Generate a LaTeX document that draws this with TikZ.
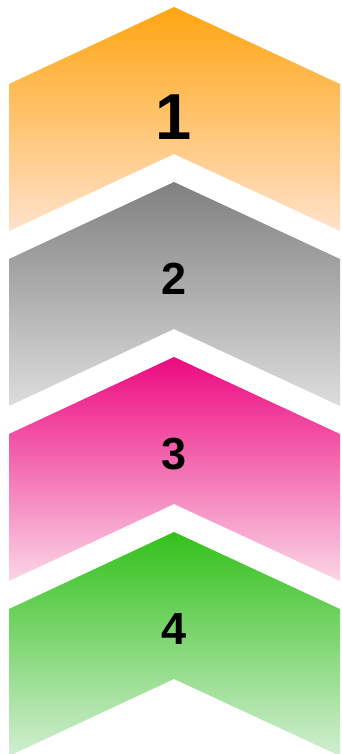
\documentclass[tikz,border=0pt]{standalone}
\usepackage{fontspec}
\setmainfont{Liberation Sans}
\definecolor{orangetop}{HTML}{FFA511}
\definecolor{orangebot}{HTML}{FFE2CC}
\definecolor{graytop}{HTML}{808080}
\definecolor{graybot}{HTML}{DDDDDD}
\definecolor{pinktop}{HTML}{EC0A80}
\definecolor{pinkbot}{HTML}{FBD6E6}
\definecolor{greentop}{HTML}{33C11B}
\definecolor{greenbot}{HTML}{D2EED2}
\begin{document}
\begin{tikzpicture}[x=1pt,y=-1pt,
	numlabel/.style={font=\bfseries\fontsize{45}{45}\selectfont,inner sep=0pt}]
	\useasboundingbox (0,0) rectangle (341,754);
	\fill[white] (0,0) rectangle (341,754);
	% chevrons, top to bottom
	\foreach \t/\ctop/\cbot in {7/orangetop/orangebot,182/graytop/graybot,357/pinktop/pinkbot,532/greentop/greenbot}
		\shade[top color=\ctop,bottom color=\cbot] (174,\t)--(340,\t+77)--(340,\t+224)--(174,\t+147)--(9,\t+224)--(9,\t+77)--cycle;
	\node[numlabel,font=\bfseries\fontsize{65}{65}\selectfont] (one) at (174,117) {1};
	\node[numlabel] (two) at (174,279) {2};
	\node[numlabel] (three) at (174,454) {3};
	\node[numlabel] (four) at (174,629) {4};
\end{tikzpicture}
\end{document}
